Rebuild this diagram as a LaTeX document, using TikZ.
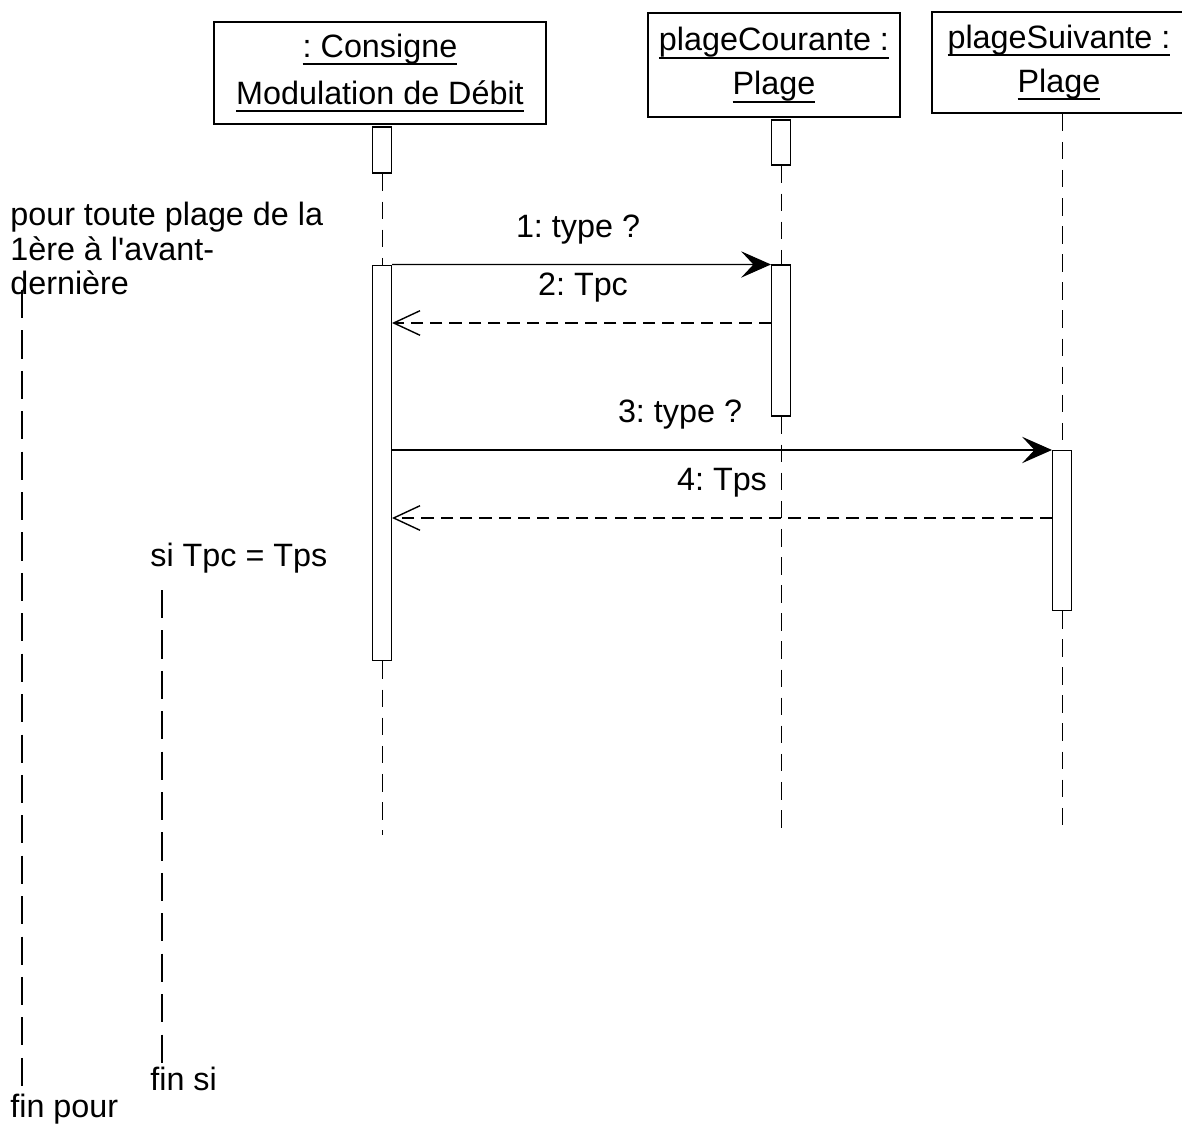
\documentclass[tikz,border=0pt]{standalone}
\usepackage{fontspec}
\setmainfont{Liberation Sans}
\usetikzlibrary{arrows.meta}
\frenchspacing
\newsavebox\boitesoul
\newcommand{\souligne}[1]{\sbox\boitesoul{#1}\rlap{\rule[-4.5pt]{\wd\boitesoul}{1.1pt}}\usebox\boitesoul}

\begin{document}
\begin{tikzpicture}[
  x=0.02cm, y=-0.02cm,
  every node/.style={font=\fontsize{18.4}{25}\selectfont},
  objet/.style={draw, line width=0.8pt, inner sep=0pt, align=center},
  activ/.style={draw, line width=0.6pt, fill=white, inner sep=0pt, minimum width=0.38cm},
  vie/.style={line width=0.5pt, dash pattern=on 10pt off 6pt},
  appel/.style={line width=0.7pt, -{Stealth[length=17pt, width=15pt, inset=7pt]}},
  retour/.style={line width=0.6pt, dash pattern=on 7pt off 4pt,
                 -{Straight Barb[length=15pt, width=14pt, line width=0.8pt]}},
  cadre/.style={line width=1.3pt, dash pattern=on 16pt off 7pt},
  texte/.style={inner sep=0pt, anchor=base west}
]
  \useasboundingbox (0,0) rectangle (1182,1124);

  % Objets
  \node[objet, minimum width=6.64cm, minimum height=2.04cm,
        font=\fontsize{18.4}{26.5}\selectfont] (o1) at (380,73)
    {\souligne{: Consigne}\\\souligne{Modulation de Débit}};
  \node[objet, minimum width=5.04cm, minimum height=2.08cm] (o2) at (774,65)
    {\souligne{plageCourante :}\\\souligne{Plage}};
  \node[objet, minimum width=5.08cm, minimum height=2.02cm] (o3) at (1059,62.5)
    {\souligne{plageSuivante :}\\\souligne{Plage}};

  % Lignes de vie
  \coordinate (f1) at (382,835);
  \coordinate (f2) at (781,828);
  \coordinate (f3) at (1062,835);

  \node[activ, minimum height=0.92cm] (s1) at (382,150) {};
  \node[activ, minimum height=0.90cm] (s2) at (781,142.5) {};
  \node[activ, minimum height=7.92cm] (a1) at (382,463) {};
  \node[activ, minimum height=3.02cm] (a2) at (781,340.5) {};
  \node[activ, minimum height=3.20cm] (a3) at (1062,530.5) {};

  \draw[vie] (s1.south) -- (a1.north);
  \draw[vie] (a1.south) -- (f1);
  \draw[vie] (s2.south) -- (a2.north);
  \draw[vie] (a2.south) -- (f2);
  \draw[vie] (o3.south -| a3.north) -- (a3.north);
  \draw[vie] (a3.south) -- (f3);

  % Messages
  \coordinate (r2) at (0,323);
  \coordinate (r4) at (0,518);
  \draw[appel] (a1.north east) -- (a2.north west);
  \draw[retour] (a2.west |- r2) -- (a1.east |- r2);
  \draw[appel] (a1.east |- a3.north) -- (a3.north west);
  \draw[retour] (a3.west |- r4) -- (a1.east |- r4);

  \node[inner sep=0pt, anchor=base] (m1) at (578,238) {1: type ?};
  \node[inner sep=0pt, anchor=base] (m2) at (583,296) {2: Tpc};
  \node[inner sep=0pt, anchor=base] (m3) at (680,423) {3: type ?};
  \node[inner sep=0pt, anchor=base] (m4) at (722,491) {4: Tps};

  % Boucle et condition
  \node[texte, anchor=north west, align=left, font=\fontsize{18.4}{19.6}\selectfont] (pour)
    at (10,202) {pour toute plage de la\\1ère à l\textquotesingle avant-\\dernière};
  \node[texte] (finpour) at (10,1117) {fin pour};
  \coordinate (p0) at (22,290);
  \coordinate (p1) at (22,1090);
  \draw[cadre] (p0) -- (p1);

  \node[texte] (si) at (150,566) {si Tpc = Tps};
  \node[texte] (finsi) at (150,1090) {fin si};
  \coordinate (q0) at (162,590);
  \coordinate (q1) at (162,1063);
  \draw[cadre] (q0) -- (q1);
\end{tikzpicture}
\end{document}
